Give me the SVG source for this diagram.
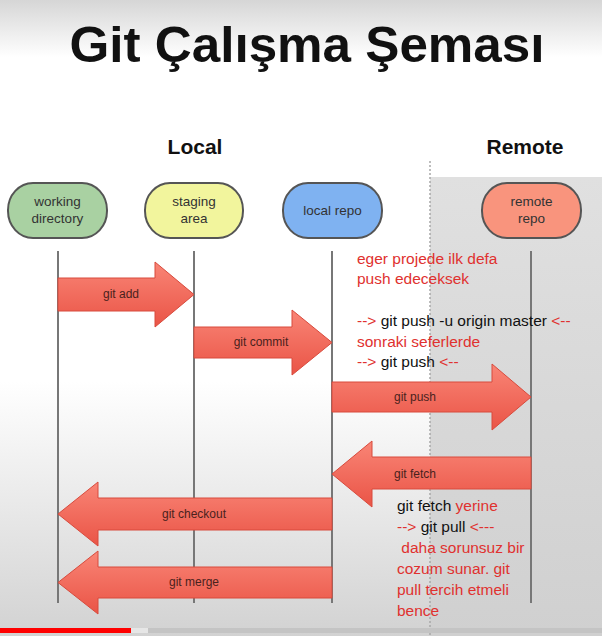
<svg xmlns="http://www.w3.org/2000/svg" width="602" height="636" viewBox="0 0 602 636">
<defs>
<linearGradient id="bg" x1="0" y1="0" x2="0" y2="1">
<stop offset="0" stop-color="#d6d6d6"/>
<stop offset="0.09" stop-color="#ffffff"/>
<stop offset="0.6" stop-color="#ffffff"/>
<stop offset="1" stop-color="#d2d2d2"/>
</linearGradient>
<linearGradient id="panel" x1="0" y1="0" x2="0" y2="1">
<stop offset="0" stop-color="#e0e0e0"/>
<stop offset="1" stop-color="#d0d0d0"/>
</linearGradient>
<linearGradient id="arr" x1="0" y1="0" x2="0" y2="1">
<stop offset="0" stop-color="#f98576"/>
<stop offset="1" stop-color="#ea5446"/>
</linearGradient>
<style>
.node rect{stroke:#555;stroke-width:2}
.nt{font-family:"Liberation Sans",Arial,sans-serif;font-size:13.5px;fill:#333;text-anchor:middle}
.life{stroke:#777;stroke-width:2;fill:none}
.arrow{fill:url(#arr);stroke:#d84a3c;stroke-width:1}
.al{font-family:"Liberation Sans",Arial,sans-serif;font-size:12px;fill:#4a221d;text-anchor:middle}
.hd{font-family:"Liberation Sans",Arial,sans-serif;font-weight:bold;fill:#111}
.an{font-family:"Liberation Sans",Arial,sans-serif;font-size:15.5px;fill:#e0312f}
.bk{fill:#111}
</style>
</defs>
<rect x="0" y="0" width="602" height="636" fill="url(#bg)"/>
<rect x="430" y="177" width="172" height="459" fill="url(#panel)"/>
<line x1="430" y1="161" x2="430" y2="636" stroke="#a8a8a8" stroke-width="1.5" stroke-dasharray="2 2"/>
<text x="307" y="62" class="hd" font-size="50" text-anchor="middle" textLength="475" lengthAdjust="spacingAndGlyphs">Git Çalışma Şeması</text>
<text x="195" y="154" class="hd" font-size="21" text-anchor="middle">Local</text>
<text x="525" y="154" class="hd" font-size="21" text-anchor="middle">Remote</text>
<g id="connectors">
<line class="life" x1="58" y1="251" x2="58" y2="603"/>
<line class="life" x1="194" y1="251" x2="194" y2="603"/>
<line class="life" x1="332" y1="251" x2="332" y2="603"/>
<line class="life" x1="531" y1="251" x2="531" y2="603"/>
<g id="git-add"><path class="arrow" d="M58,278 L155,278 L155,262 L194,294.5 L155,327 L155,311 L58,311 Z"/><text class="al" x="121" y="298">git add</text></g>
<g id="git-commit"><path class="arrow" d="M194,327 L292,327 L292,310 L332,342.5 L292,375 L292,358 L194,358 Z"/><text class="al" x="261" y="346">git commit</text></g>
<g id="git-push"><path class="arrow" d="M332,382 L492,382 L492,364 L531,397 L492,430 L492,412 L332,412 Z"/><text class="al" x="415" y="401">git push</text></g>
<g id="git-fetch"><path class="arrow" d="M531,457 L372,457 L372,441 L332,474 L372,507 L372,489 L531,489 Z"/><text class="al" x="415" y="478">git fetch</text></g>
<g id="git-checkout"><path class="arrow" d="M332,498 L98,498 L98,482 L58,514 L98,546 L98,530 L332,530 Z"/><text class="al" x="194" y="518">git checkout</text></g>
<g id="git-merge"><path class="arrow" d="M332,567 L98,567 L98,551 L58,582.5 L98,614 L98,598 L332,598 Z"/><text class="al" x="194" y="586">git merge</text></g>
</g>
<g id="working-directory" class="node"><rect x="8" y="183" width="99" height="55" rx="25" ry="27" fill="#a9d1a2"/><text class="nt" x="57.5" y="206">working</text><text class="nt" x="57.5" y="223">directory</text></g>
<g id="staging-area" class="node"><rect x="145" y="183" width="98" height="55" rx="25" ry="27" fill="#f2f59d"/><text class="nt" x="194" y="206">staging</text><text class="nt" x="194" y="223">area</text></g>
<g id="local-repo" class="node"><rect x="283" y="183" width="99" height="55" rx="25" ry="27" fill="#7fb2f1"/><text class="nt" x="332.5" y="215">local repo</text></g>
<g id="remote-repo" class="node"><rect x="482" y="183" width="99" height="55" rx="25" ry="27" fill="#f9947d"/><text class="nt" x="531.5" y="206">remote</text><text class="nt" x="531.5" y="223">repo</text></g>
<g id="note-push">
<text class="an" x="357" y="264">eger projede ilk defa</text>
<text class="an" x="357" y="284">push edeceksek</text>
<text class="an" x="357" y="326">--&gt; <tspan class="bk">git push -u origin master</tspan> &lt;--</text>
<text class="an" x="357" y="347">sonraki seferlerde</text>
<text class="an" x="357" y="367">--&gt; <tspan class="bk">git push</tspan> &lt;--</text>
</g>
<g id="note-pull">
<text class="an" x="397" y="511"><tspan class="bk">git fetch</tspan> yerine</text>
<text class="an" x="397" y="532">--&gt; <tspan class="bk">git pull</tspan> &lt;---</text>
<text class="an" x="397" y="553" xml:space="preserve"> daha sorunsuz bir</text>
<text class="an" x="397" y="574">cozum sunar. git</text>
<text class="an" x="397" y="595">pull tercih etmeli</text>
<text class="an" x="397" y="616">bence</text>
</g>
<rect x="0" y="628" width="602" height="5" fill="#c4c4c4"/>
<rect x="131" y="628" width="17" height="5" fill="#e6e6e6"/>
<rect x="0" y="628" width="131" height="5" fill="#f00"/>
</svg>
